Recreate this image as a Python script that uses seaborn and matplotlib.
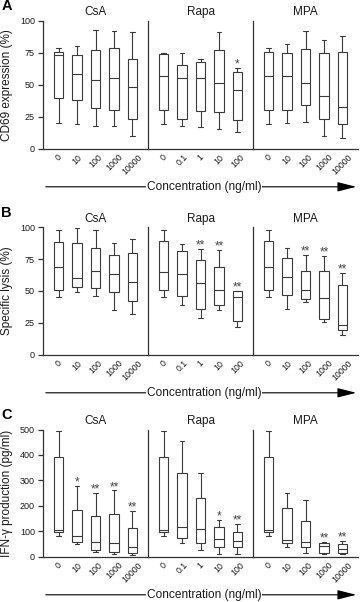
import numpy as np
import pandas as pd
import matplotlib
matplotlib.use("Agg")
import matplotlib.pyplot as plt
import seaborn as sns
from matplotlib.patches import FancyArrowPatch

sns.set_theme(style="white")
plt.rcParams["font.family"] = ["Liberation Sans", "DejaVu Sans"]

# ---------------- data (five-number summaries: min, Q1, median, Q3, max) ----------------
drugs = ["CsA", "Rapa", "MPA"]
conc_csa = ["0", "10", "100", "1000", "10000"]
conc_rapa = ["0", "0.1", "1", "10", "100"]
conc_mpa = ["0", "10", "100", "1000", "10000"]

cd69_csa = [[20, 40, 73.5, 76, 79], [19, 38, 58.5, 73, 80], [18, 32, 53.5, 77.5, 93],
            [18, 30, 55.5, 78.5, 92.5], [10, 23, 48.5, 70, 91]]
cd69_rapa = [[19, 30, 57, 74.5, 75], [18, 23, 55, 65.5, 75], [16.5, 29.5, 55.5, 68, 70],
             [15, 29, 51, 77, 91.5], [13, 22, 46, 60, 63]]
cd69_mpa = [[19, 30, 57, 76, 79], [20, 30.5, 56.5, 75, 82], [21, 34, 51, 78, 92],
            [9.5, 23, 41, 75, 85], [8, 19, 32.5, 76, 88]]

lysis_csa = [[45, 50.5, 68.5, 88.5, 97.5], [49, 53, 60, 87.5, 99.5], [46, 52.5, 66, 84, 98],
             [35, 49, 63, 78.5, 87.5], [31.5, 42, 57, 80, 91]]
lysis_rapa = [[45, 50.5, 65, 89, 97.5], [39, 46, 63, 81, 87], [28.5, 36, 56, 74.5, 83],
              [35, 39, 50.5, 69, 82], [21.5, 26, 45.5, 50, 50]]
lysis_mpa = [[45, 50.5, 68.5, 89, 97.5], [36, 47, 61, 76, 84], [41.5, 44, 50.5, 66, 78.5],
             [25.5, 28, 44.5, 65.5, 77.5], [15.5, 19.5, 23.5, 55, 64]]

ifng_csa = [[82, 97, 103, 392, 493], [48, 56, 82, 183, 278], [16, 25, 56, 158, 249],
            [8, 17, 55, 166, 260], [5, 13, 38, 112, 178]]
ifng_rapa = [[82, 95, 104, 392, 493], [54, 73, 115, 329, 456], [25, 54, 108, 229, 327],
             [10, 39, 68, 118, 144], [10, 39, 61, 96, 127]]
ifng_mpa = [[82, 96, 106, 392, 493], [37, 54, 63, 189, 249], [14, 37, 57, 141, 221],
            [8, 13, 41, 52, 56], [8, 13, 31, 49, 60]]

stars_cd69 = {"CsA": ["", "", "", "", ""], "Rapa": ["", "", "", "", "*"], "MPA": ["", "", "", "", ""]}
stars_lysis = {"CsA": ["", "", "", "", ""], "Rapa": ["", "", "**", "**", "**"],
               "MPA": ["", "", "**", "**", "**"]}
stars_ifng = {"CsA": ["", "*", "**", "**", "**"], "Rapa": ["", "", "", "*", "**"],
              "MPA": ["", "", "", "**", "**"]}

panels = [
    dict(letter="A", ylabel="CD69 expression (%)", ymax=100, yticks=[0, 25, 50, 75, 100],
         data={"CsA": cd69_csa, "Rapa": cd69_rapa, "MPA": cd69_mpa}, stars=stars_cd69,
         top=21, bottom=148.5),
    dict(letter="B", ylabel="Specific lysis (%)", ymax=100, yticks=[0, 25, 50, 75, 100],
         data={"CsA": lysis_csa, "Rapa": lysis_rapa, "MPA": lysis_mpa}, stars=stars_lysis,
         top=227.3, bottom=354.5),
    dict(letter="C", ylabel="IFN-γ production (pg/ml)", ymax=500,
         yticks=[0, 100, 200, 300, 400, 500],
         data={"CsA": ifng_csa, "Rapa": ifng_rapa, "MPA": ifng_mpa}, stars=stars_ifng,
         top=429.5, bottom=556.5),
]
concs = {"CsA": conc_csa, "Rapa": conc_rapa, "MPA": conc_mpa}

# ---------------- figure ----------------
W, H = 360, 602
fig = plt.figure(figsize=(W / 100, H / 100), dpi=100)
fig.patch.set_facecolor("white")

LINE = "#3a3a3a"
AX = "#333333"
TXT = "#1a1a1a"
x0, wsub = 43, 105

for p in panels:
    bottom_f = 1 - p["bottom"] / H
    height_f = (p["bottom"] - p["top"]) / H
    for j, drug in enumerate(drugs):
        ax = fig.add_axes([(x0 + j * wsub) / W, bottom_f, wsub / W, height_f])
        rows = []
        for c, vals in zip(concs[drug], p["data"][drug]):
            for v in vals:
                rows.append({"conc": c, "value": v})
        df = pd.DataFrame(rows)
        sns.boxplot(data=df, x="conc", y="value", order=concs[drug], ax=ax,
                    whis=(0, 100), width=0.52, fill=True, color="white",
                    linecolor=LINE, linewidth=0.8, showfliers=False, capwidths=0.25)
        ax.set_xlim(-0.84, 4.84)
        ax.set_ylim(0, p["ymax"])
        ax.set_xlabel("")
        ax.set_ylabel("")
        ax.set_facecolor("none")
        for s in ["top", "right"]:
            ax.spines[s].set_visible(False)
        for s in ["left", "bottom"]:
            ax.spines[s].set_color(AX)
            ax.spines[s].set_linewidth(0.9)
        ax.set_xticks(range(5))
        ax.set_xticklabels(concs[drug], rotation=45, fontsize=6.3, color=TXT)
        ax.tick_params(axis="x", length=0, pad=3)
        if j == 0:
            ax.set_yticks(p["yticks"])
            ax.tick_params(axis="y", length=3.6, width=0.9, color=AX, pad=2.2,
                           labelsize=6.5, labelcolor=TXT, left=True, direction="out")
        else:
            ax.tick_params(axis="y", left=False, labelleft=False)
        ax.set_title(drug, fontsize=8.5, color=TXT, pad=4)
        # significance stars
        for i, (st, vals) in enumerate(zip(p["stars"][drug], p["data"][drug])):
            if st:
                ax.annotate(st, xy=(i, max(vals)), xytext=(0, 0.3), textcoords="offset points",
                            ha="center", va="baseline", fontsize=8.5, color="#444444")
    # panel letter
    fig.text(1.5 / W, 1 - (p["top"] - 14.5) / H, p["letter"], fontsize=10.5,
             fontweight="bold", ha="left", va="center", color="black")
    # y label
    fig.text(7.5 / W, 1 - (p["top"] + p["bottom"]) / 2 / H, p["ylabel"], rotation=90,
             fontsize=8.5, ha="center", va="center", color=TXT)
    # concentration arrow
    ya = 1 - (p["bottom"] + 38.3) / H
    arr = FancyArrowPatch((x0 / W, ya), (359 / W, ya), transform=fig.transFigure,
                          arrowstyle="-|>,head_length=11.5,head_width=2.9", mutation_scale=1,
                          color="black", linewidth=0.8)
    fig.add_artist(arr)
    fig.text(204 / W, ya, "Concentration (ng/ml)", fontsize=8.6, ha="center", va="center",
             color=TXT, bbox=dict(boxstyle="square,pad=0.08", facecolor="white",
                                  edgecolor="none"))

fig.savefig("out.png", dpi=100, facecolor="white")
